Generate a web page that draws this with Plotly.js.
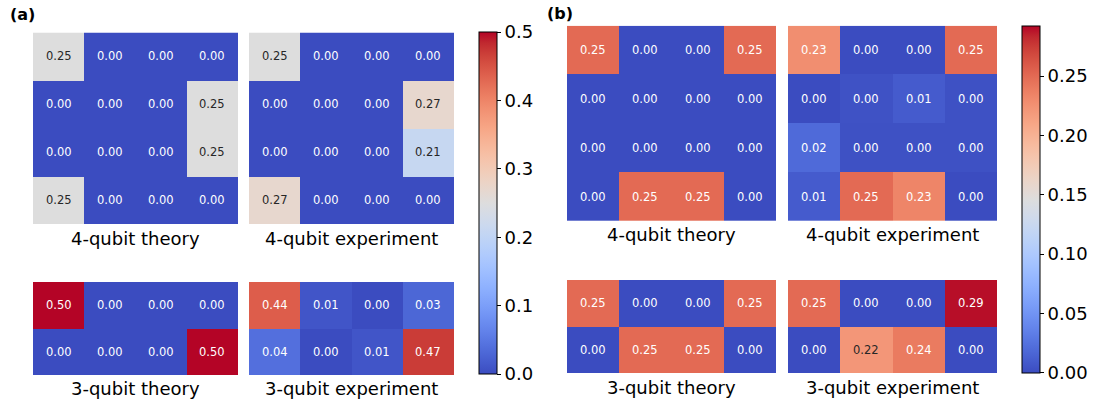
<!DOCTYPE html>
<html><head><meta charset="utf-8">
<script src="https://cdn.plot.ly/plotly-3.0.1.min.js"></script>
<style>html,body{margin:0;padding:0;background:#fff}</style>
</head><body><div id="chart" style="width:1099px;height:402px"></div>
<script>
// ---------- data ----------
const panelLabels = ["(a)", "(b)"];
const titles = ["4-qubit theory", "4-qubit experiment", "3-qubit theory", "3-qubit experiment"];
const colIdx = [0, 1, 2, 3];

const a4Theory = [[0.25,0,0,0],[0,0,0,0.25],[0,0,0,0.25],[0.25,0,0,0]];
const a4Exp    = [[0.25,0,0,0],[0,0,0,0.27],[0,0,0,0.21],[0.27,0,0,0]];
const a3Theory = [[0.50,0,0,0],[0,0,0,0.50]];
const a3Exp    = [[0.44,0.01,0.00,0.03],[0.04,0.00,0.01,0.47]];

const b4Theory = [[0.25,0,0,0.25],[0,0,0,0],[0,0,0,0],[0,0.25,0.25,0]];
const b4Exp    = [[0.228,0,0,0.25],[0,0.004,0.01,0.003],[0.02,0.003,0.003,0.003],[0.01,0.25,0.234,0]];
const b3Theory = [[0.25,0,0,0.25],[0,0.25,0.25,0]];
const b3Exp    = [[0.25,0,0,0.29],[0,0.222,0.24,0]];

const aTicks = [0, 0.1, 0.2, 0.3, 0.4, 0.5];
const bTicks = [0, 0.05, 0.10, 0.15, 0.20, 0.25];
const aMax = 0.5, bMax = 0.2925;

// matplotlib coolwarm
const coolwarm = [
 [59,76,192],[68,90,204],[77,104,215],[87,117,225],[98,130,234],[108,142,241],[119,154,247],[130,165,251],
 [141,176,254],[152,185,255],[163,194,255],[174,201,253],[184,208,249],[194,213,244],[204,217,238],[213,219,230],
 [221,221,221],[229,216,209],[236,211,197],[241,204,184],[245,196,172],[247,187,159],[247,177,147],[247,166,134],
 [244,154,123],[241,141,111],[236,127,99],[229,112,88],[222,96,77],[213,80,66],[203,62,56],[192,40,47],[180,4,38]
];
const n = coolwarm.length - 1;
const colorscale = coolwarm.map((c, i) => [i / n, `rgb(${c[0]},${c[1]},${c[2]})`]);

function colorAt(t) {
  t = Math.max(0, Math.min(1, t));
  const p = t * n, i = Math.min(Math.floor(p), n - 1), f = p - i;
  return coolwarm[i].map((v, k) => v + (coolwarm[i + 1][k] - v) * f);
}
function lum(rgb) {
  const lin = rgb.map(v => { v /= 255; return v <= 0.03928 ? v / 12.92 : Math.pow((v + 0.055) / 1.055, 2.4); });
  return 0.2126 * lin[0] + 0.7152 * lin[1] + 0.0722 * lin[2];
}

// ---------- layout geometry (pixels) ----------
const W = 1099, H = 402;
const fx = p => p / W, fy = p => 1 - p / H;

const panels = [
  { label: panelLabels[0], labelPos: [8, 15], max: aMax, ticks: aTicks, fmt: ".1f",
    mats: [a4Theory, a4Exp, a3Theory, a3Exp],
    xs: [[33, 238], [249, 454]], ys: [[32.5, 224], [282, 375]], titleY: [238, 388],
    cb: { x: 479, top: 32, bottom: 374 } },
  { label: panelLabels[1], labelPos: [545, 13], max: bMax, ticks: bTicks, fmt: ".2f",
    mats: [b4Theory, b4Exp, b3Theory, b3Exp],
    xs: [[567, 776], [788, 997]], ys: [[25.7, 221], [280, 373]], titleY: [235, 387],
    cb: { x: 1022, top: 25.7, bottom: 373 } }
];

const data = [];
const layout = {
  width: W, height: H, margin: { l: 0, r: 0, t: 0, b: 0 },
  paper_bgcolor: "#fff", plot_bgcolor: "#fff", showlegend: false,
  annotations: []
};
const textFont = "DejaVu Sans, sans-serif";

let ax = 0;
panels.forEach((P, pi) => {
  layout.annotations.push({
    xref: "paper", yref: "paper", x: fx(P.labelPos[0]), y: fy(P.labelPos[1]),
    xanchor: "left", yanchor: "middle", showarrow: false,
    text: "<b>" + P.label + "</b>", font: { family: textFont, size: 16, color: "#000" }
  });
  P.mats.forEach((z, mi) => {
    ax++;
    const xn = ax === 1 ? "x" : "x" + ax, yn = ax === 1 ? "y" : "y" + ax;
    const col = mi % 2, row = Math.floor(mi / 2);
    const rowsIdx = z.map((_, r) => r);
    const tr = {
      type: "heatmap", z: z, x: colIdx, y: rowsIdx, xaxis: xn, yaxis: yn,
      colorscale: colorscale, zmin: 0, zmax: P.max, hoverinfo: "skip",
      showscale: mi === 0
    };
    if (mi === 0) {
      tr.colorbar = {
        x: fx(P.cb.x), xanchor: "left", xpad: 0, ypad: 0,
        y: fy(P.cb.top), yanchor: "top",
        len: P.cb.bottom - P.cb.top, lenmode: "pixels",
        thickness: 18, thicknessmode: "pixels",
        outlinewidth: 1, outlinecolor: "#000",
        tickvals: P.ticks, tickformat: P.fmt, ticks: "outside", ticklen: 4, tickwidth: 1, tickcolor: "#000",
        tickfont: { family: textFont, size: 18, color: "#000" }
      };
    }
    data.push(tr);
    const xa = "xaxis" + (ax === 1 ? "" : ax), ya = "yaxis" + (ax === 1 ? "" : ax);
    layout[xa] = { domain: [fx(P.xs[col][0]), fx(P.xs[col][1])], range: [-0.5, 3.5],
      visible: false, fixedrange: true, anchor: yn };
    layout[ya] = { domain: [fy(P.ys[row][1]), fy(P.ys[row][0])], range: [z.length - 0.5, -0.5],
      visible: false, fixedrange: true, anchor: xn };
    // cell text
    z.forEach((rowVals, r) => rowVals.forEach((v, c) => {
      const dark = lum(colorAt(v / P.max)) > 0.408;
      layout.annotations.push({
        xref: xn, yref: yn, x: colIdx[c], y: rowsIdx[r], showarrow: false,
        text: v.toFixed(2), font: { family: textFont, size: 11.5, color: dark ? "#262626" : "#ffffff" }
      });
    }));
    // subplot title
    layout.annotations.push({
      xref: "paper", yref: "paper", x: fx((P.xs[col][0] + P.xs[col][1]) / 2), y: fy(P.titleY[row]),
      xanchor: "center", yanchor: "middle", showarrow: false,
      text: titles[mi], font: { family: textFont, size: 18, color: "#000" }
    });
  });
});

Plotly.newPlot("chart", data, layout, { staticPlot: true, displayModeBar: false });
</script></body></html>
